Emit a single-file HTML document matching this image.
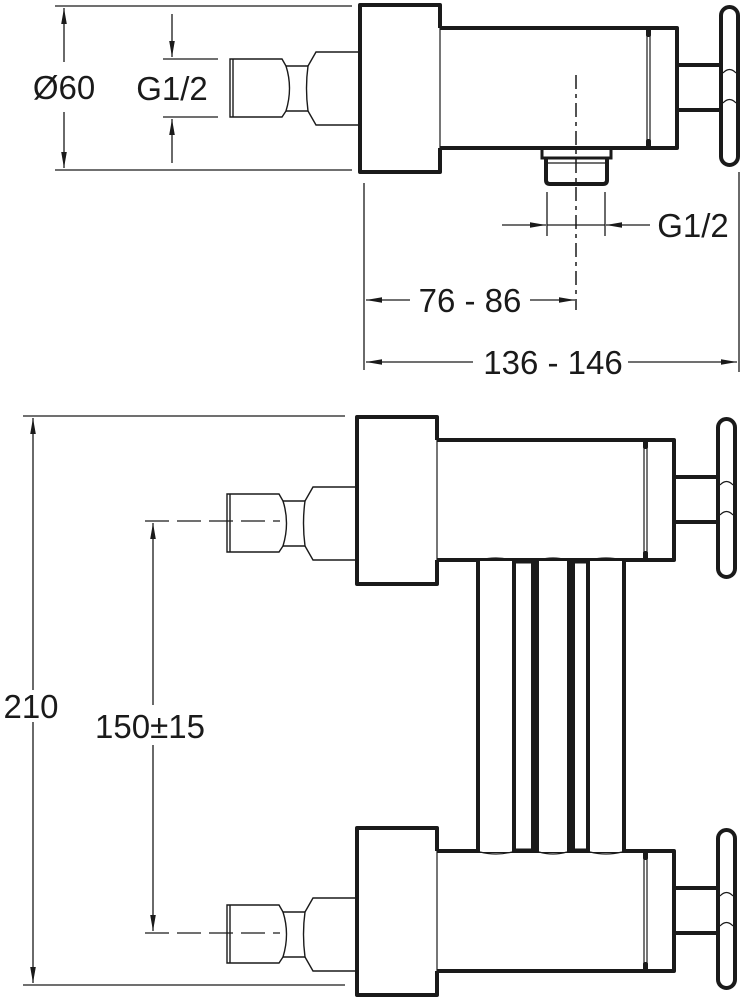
<!DOCTYPE html>
<html><head><meta charset="utf-8"><style>
html,body{margin:0;padding:0;background:#fff;}
svg{display:block;}
text{font-family:"Liberation Sans",Arial,sans-serif;fill:#1a1a1a;}
</style></head><body>
<svg width="747" height="1000" viewBox="0 0 747 1000" xmlns="http://www.w3.org/2000/svg">
<defs>
<marker id="a" markerWidth="16" markerHeight="8" refX="16" refY="4" orient="auto" markerUnits="userSpaceOnUse">
<path d="M0,1.2 L16,4 L0,6.8 Z" fill="#1a1a1a"/></marker>
<g id="valve">
  <path d="M80,23 H317 V143 H80" fill="none" stroke="#1a1a1a" stroke-width="4" stroke-linejoin="round"/>
  <line x1="80" y1="23" x2="80" y2="143" stroke="#1a1a1a" stroke-width="1.2"/>
  <path d="M80,23 V0 H0 V167 H80 V143" fill="none" stroke="#1a1a1a" stroke-width="4" stroke-linejoin="round"/>
  <line x1="287" y1="24" x2="287" y2="142" stroke="#1a1a1a" stroke-width="1.2"/>
  <line x1="290" y1="24" x2="290" y2="142" stroke="#1a1a1a" stroke-width="1.2"/>
  <rect x="286" y="22" width="5" height="10" rx="2" fill="#1a1a1a"/>
  <rect x="286" y="134" width="5" height="10" rx="2" fill="#1a1a1a"/>
  <path d="M317,60 H361 M317,105 H361" stroke="#1a1a1a" stroke-width="4"/>
  <line x1="317" y1="60" x2="317" y2="105" stroke="#1a1a1a" stroke-width="1"/>
  <rect x="361" y="2" width="17" height="158" rx="8.5" fill="#fff" stroke="#1a1a1a" stroke-width="4"/>
  <path d="M363,68 Q369.5,61 376,68 M363,98 Q369.5,91 376,98" fill="none" stroke="#1a1a1a" stroke-width="1.2"/>
</g>
<g id="inlet" fill="none" stroke="#1a1a1a" stroke-width="1.4">
  <path d="M0,-36 H-44 L-52,-22"/>
  <path d="M0,37 H-44 L-52,23"/>
  <path d="M-74,-22 L-52,-22 Q-55,0 -52,23 L-74,23 Q-67,0 -74,-22 Z"/>
  <path d="M-74,-22 L-78,-29 H-130 V29 H-78 L-74,23"/>
  <line x1="-127" y1="-29" x2="-127" y2="29"/>
</g>
</defs>

<g stroke="#1a1a1a" stroke-width="1.3" fill="none">
  <line x1="55" y1="6" x2="352" y2="6"/>
  <line x1="55" y1="170" x2="352" y2="170"/>
  <line x1="64" y1="62" x2="64" y2="8" marker-end="url(#a)"/>
  <line x1="64" y1="112" x2="64" y2="168" marker-end="url(#a)"/>
  <line x1="163" y1="59" x2="218" y2="59"/>
  <line x1="163" y1="117" x2="218" y2="117"/>
  <line x1="172" y1="14" x2="172" y2="57" marker-end="url(#a)"/>
  <line x1="172" y1="163" x2="172" y2="119" marker-end="url(#a)"/>
</g>
<text x="64" y="99" font-size="33" text-anchor="middle">Ø60</text>
<text x="172" y="100" font-size="33" text-anchor="middle">G1/2</text>

<use href="#inlet" x="360" y="88"/>
<use href="#valve" x="360" y="5"/>
<path d="M542,150 V158 H611 V150" fill="none" stroke="#1a1a1a" stroke-width="3"/>
<path d="M546,158 V180 Q546,184 550,184 H603 Q607,184 607,180 V158" fill="none" stroke="#1a1a1a" stroke-width="4"/>
<line x1="548" y1="163" x2="605" y2="163" stroke="#1a1a1a" stroke-width="1.2"/>
<line x1="576" y1="75" x2="576" y2="310" stroke="#1a1a1a" stroke-width="1.5" stroke-dasharray="14,5,4,5"/>

<g stroke="#1a1a1a" stroke-width="1.3" fill="none">
  <line x1="547" y1="192" x2="547" y2="236"/>
  <line x1="605" y1="192" x2="605" y2="236"/>
  <line x1="547" y1="225" x2="605" y2="225"/>
  <line x1="502" y1="225" x2="546" y2="225" marker-end="url(#a)"/>
  <line x1="650" y1="225" x2="606" y2="225" marker-end="url(#a)"/>
  <line x1="364" y1="183" x2="364" y2="370"/>
  <line x1="739" y1="172" x2="739" y2="372"/>
  <line x1="410" y1="300" x2="366" y2="300" marker-end="url(#a)"/>
  <line x1="530" y1="300" x2="575" y2="300" marker-end="url(#a)"/>
  <line x1="473" y1="362" x2="366" y2="362" marker-end="url(#a)"/>
  <line x1="628" y1="362" x2="737" y2="362" marker-end="url(#a)"/>
</g>
<text x="693" y="237" font-size="33" text-anchor="middle">G1/2</text>
<text x="470" y="312" font-size="33" text-anchor="middle">76 - 86</text>
<text x="553" y="374" font-size="33" text-anchor="middle">136 - 146</text>

<g stroke="#1a1a1a" stroke-width="1.3" fill="none">
  <line x1="23" y1="416" x2="345" y2="416"/>
  <line x1="23" y1="985" x2="345" y2="985"/>
  <line x1="33" y1="690" x2="33" y2="418" marker-end="url(#a)"/>
  <line x1="33" y1="722" x2="33" y2="983" marker-end="url(#a)"/>
  <line x1="153" y1="705" x2="153" y2="523" marker-end="url(#a)"/>
  <line x1="153" y1="745" x2="153" y2="931" marker-end="url(#a)"/>
  <line x1="145" y1="521" x2="280" y2="521" stroke-dasharray="24,8"/>
  <line x1="145" y1="933" x2="280" y2="933" stroke-dasharray="24,8"/>
</g>
<text x="31" y="718" font-size="33" text-anchor="middle">210</text>
<text x="150" y="738" font-size="33" text-anchor="middle">150±15</text>

<use href="#inlet" x="357" y="523"/>
<use href="#inlet" x="357" y="934"/>
<use href="#valve" x="357" y="417"/>
<use href="#valve" x="357" y="828"/>

<g stroke="#1a1a1a" stroke-width="4" fill="none">
  <line x1="478" y1="560" x2="478" y2="852"/>
  <line x1="514" y1="562" x2="514" y2="850"/>
  <line x1="533" y1="562" x2="533" y2="850"/>
  <line x1="537" y1="562" x2="537" y2="850"/>
  <line x1="569" y1="562" x2="569" y2="850"/>
  <line x1="573" y1="562" x2="573" y2="850"/>
  <line x1="588" y1="562" x2="588" y2="850"/>
  <line x1="624" y1="560" x2="624" y2="852"/>
  <line x1="514" y1="562" x2="533" y2="562" stroke-width="3"/>
  <line x1="569" y1="562" x2="588" y2="562" stroke-width="3"/>
  <line x1="514" y1="850" x2="533" y2="850" stroke-width="3"/>
  <line x1="569" y1="850" x2="588" y2="850" stroke-width="3"/>
</g>
<rect x="480" y="561" width="32" height="5" fill="#fff"/>
<rect x="539" y="561" width="28" height="5" fill="#fff"/>
<rect x="590" y="561" width="32" height="5" fill="#fff"/>
<rect x="480" y="847" width="32" height="5" fill="#fff"/>
<rect x="539" y="847" width="28" height="5" fill="#fff"/>
<rect x="590" y="847" width="32" height="5" fill="#fff"/>
<g stroke="#1a1a1a" stroke-width="1.2" fill="none">
  <path d="M480,560 Q496,556 512,560 M539,560 Q553,556 567,560 M590,560 Q606,556 622,560"/>
  <path d="M480,852 Q496,856 512,852 M539,852 Q553,856 567,852 M590,852 Q606,856 622,852"/>
</g>
</svg>
</body></html>
